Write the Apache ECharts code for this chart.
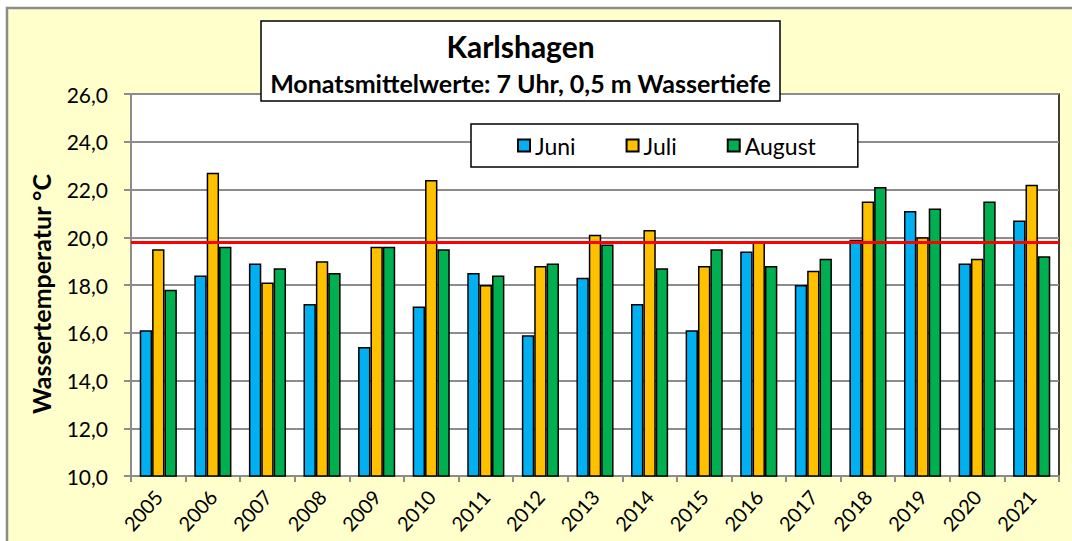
<!DOCTYPE html>
<html>
<head>
<meta charset="utf-8">
<script src="https://cdn.jsdelivr.net/npm/echarts@6/dist/echarts.min.js"></script>
<style>
html,body{margin:0;padding:0;background:#fff;}
#c{width:1072px;height:541px;}
</style>
</head>
<body>
<div id="c"></div>
<script>
const years = ['2005','2006','2007','2008','2009','2010','2011','2012','2013','2014','2015','2016','2017','2018','2019','2020','2021'];
const juni   = [16.1,18.4,18.9,17.2,15.4,17.1,18.5,15.9,18.3,17.2,16.1,19.4,18.0,19.9,21.1,18.9,20.7];
const juli   = [19.5,22.7,18.1,19.0,19.6,22.4,18.0,18.8,20.1,20.3,18.8,19.8,18.6,21.5,20.0,19.1,22.2];
const august = [17.8,19.6,18.7,18.5,19.6,19.5,18.4,18.9,19.7,18.7,19.5,18.8,19.1,22.1,21.2,21.5,19.2];
const meanLine = 19.8;
const seriesNames = ['Juni','Juli','August'];
const titleText = 'Karlshagen';
const subtitleText = 'Monatsmittelwerte: 7 Uhr, 0,5 m Wassertiefe';
const yAxisName = 'Wassertemperatur °C';

const colors = ['#00B0F0','#FFC000','#00B050'];
const FONT = 'Lato';
const chart = echarts.init(document.getElementById('c'), null, {renderer:'svg'});

function barSeries(name, data, color, extra){
  return Object.assign({
    name: name, type: 'bar', data: data,
    barGap: '0%', barCategoryGap: '32%',
    itemStyle: {color: color, borderColor: '#000', borderWidth: 1.5},
    emphasis: {disabled: true}
  }, extra || {});
}

chart.setOption({
  animation: false,
  textStyle: {fontFamily: FONT},
  graphic: [
    {type:'rect', z:-100, silent:true, shape:{x:7,y:8,width:1200,height:700},
     style:{fill:'#FFFFCC', stroke:'#8c8c8c', lineWidth:2.5}},
    {type:'rect', z:100, silent:true, shape:{x:261,y:21,width:519,height:80},
     style:{fill:'#fff', stroke:'#000', lineWidth:1.5}},
    {type:'text', z:101, silent:true, x:520.5, y:46,
     style:{text:titleText, font:'bold 30px Lato', fill:'#000', align:'center', verticalAlign:'middle'}},
    {type:'text', z:101, silent:true, x:520.5, y:83,
     style:{text:subtitleText, font:'bold 25px Lato', fill:'#000', align:'center', verticalAlign:'middle'}}
  ],
  legend: {
    data: seriesNames,
    left: 471, top: 124,
    padding: [10, 42, 10, 46],
    itemGap: 50, itemWidth: 12, itemHeight: 12,
    icon: 'rect',
    backgroundColor: '#fff', borderColor: '#000', borderWidth: 1.5, borderRadius: 0,
    textStyle: {fontFamily: FONT, fontSize: 23, color: '#000'},
    z: 50
  },
  grid: {
    left: 131, right: 13, top: 94, bottom: 65,
    show: true, backgroundColor: '#fff', borderColor: '#000', borderWidth: 1.5
  },
  xAxis: {
    type: 'category', data: years,
    axisLine: {lineStyle: {color: '#8c8c8c', width: 2}},
    axisTick: {show: true, interval: 0, length: 6, lineStyle: {color: '#8c8c8c', width: 2}},
    axisLabel: {interval: 0, rotate: 48, margin: 17, fontFamily: FONT, fontSize: 20, color: '#000'}
  },
  yAxis: {
    type: 'value', min: 10, max: 26, interval: 2,
    name: yAxisName, nameLocation: 'middle', nameRotate: 90, nameGap: 78,
    nameTextStyle: {fontFamily: FONT, fontSize: 25, fontWeight: 'bold', color: '#000', padding: [0, 18, 0, 0]},
    axisLine: {show: true, lineStyle: {color: '#8c8c8c', width: 2}},
    axisTick: {show: true, length: 7, lineStyle: {color: '#8c8c8c', width: 2}},
    axisLabel: {margin: 23, fontFamily: FONT, fontSize: 21, color: '#000',
      formatter: v => v.toFixed(1).replace('.', ',')},
    splitLine: {show: true, lineStyle: {color: '#8c8c8c', width: 2}}
  },
  series: [
    barSeries(seriesNames[0], juni, colors[0]),
    barSeries(seriesNames[1], juli, colors[1]),
    barSeries(seriesNames[2], august, colors[2], {
      markLine: {
        silent: true, symbol: ['none','none'],
        label: {show: false},
        lineStyle: {color: '#FF0000', width: 3, type: 'solid'},
        emphasis: {disabled: true},
        data: [{yAxis: meanLine}]
      }
    })
  ]
});
</script>
</body>
</html>
